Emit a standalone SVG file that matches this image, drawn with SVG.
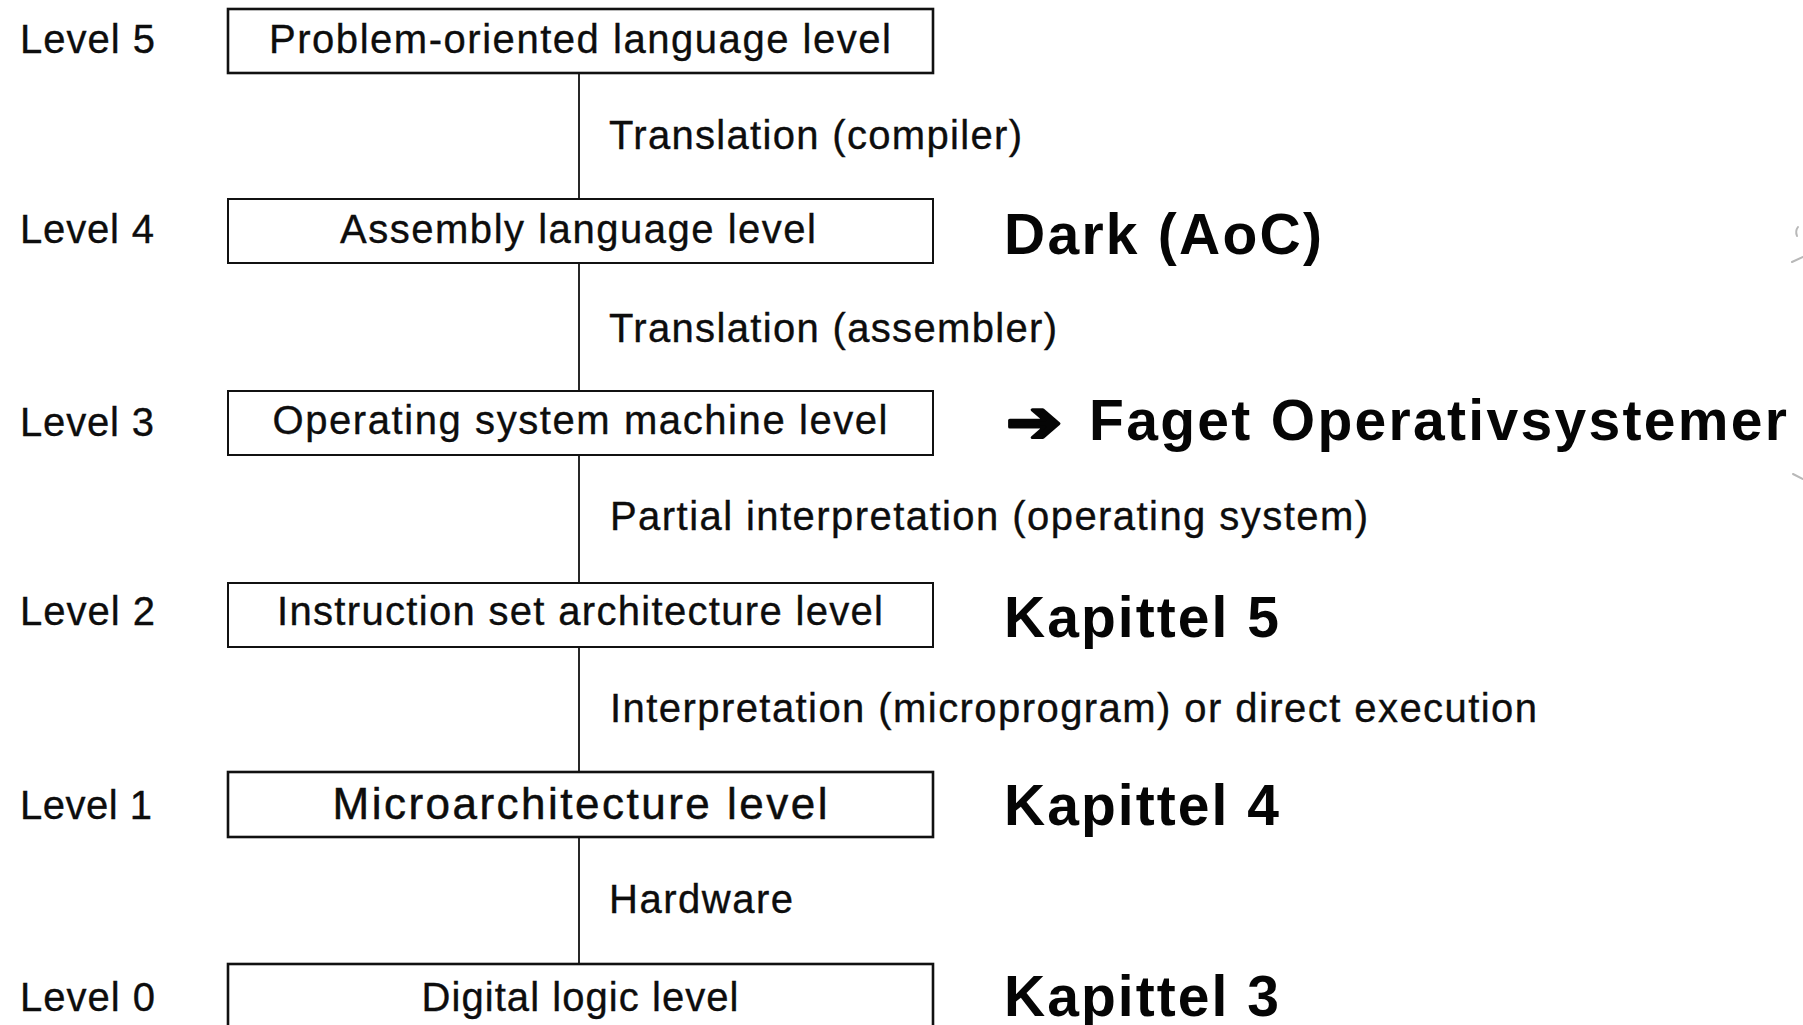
<svg xmlns="http://www.w3.org/2000/svg" width="1803" height="1025" viewBox="0 0 1803 1025">
  <style>
    .box { fill: #ffffff; stroke: #111111; stroke-width: 2; }
    .box.heavy { stroke-width: 2.6; }
    .lvl { font-family: "Liberation Sans", Arial, Helvetica, sans-serif; font-size: 40px; fill: #0d0d0d; stroke: #0d0d0d; stroke-width: 0.35; }
    .name { font-family: "Liberation Sans", Arial, Helvetica, sans-serif; font-size: 40px; fill: #0d0d0d; stroke: #0d0d0d; stroke-width: 0.35; text-anchor: middle; }
    .name.big { font-size: 44px; stroke-width: 0.5; }
    .edge { font-family: "Liberation Sans", Arial, Helvetica, sans-serif; font-size: 40px; fill: #0d0d0d; stroke: #0d0d0d; stroke-width: 0.35; }
    .note { font-family: "Liberation Sans", Arial, Helvetica, sans-serif; font-size: 57px; font-weight: bold; fill: #050505; }
    .arrow { font-family: "DejaVu Sans", sans-serif; font-size: 58px; font-weight: bold; fill: #050505; stroke: #050505; stroke-width: 3; stroke-linejoin: round; }
    .link { stroke: #111111; stroke-width: 1.8; fill: none; }
    .edge-mark { stroke: #b8b8b8; stroke-width: 2; fill: none; stroke-linecap: round; }
  </style>

  <rect x="0" y="0" width="1803" height="1025" fill="#ffffff"/>

  <!-- vertical connectors between the levels -->
  <g id="connectors">
    <line class="link" x1="579" y1="73" x2="579" y2="199"/>
    <line class="link" x1="579" y1="263" x2="579" y2="391"/>
    <line class="link" x1="579" y1="455" x2="579" y2="583"/>
    <line class="link" x1="579" y1="647" x2="579" y2="772"/>
    <line class="link" x1="579" y1="837" x2="579" y2="964"/>
    <text class="edge" x="609" y="149" textLength="413" lengthAdjust="spacing">Translation (compiler)</text>
    <text class="edge" x="609" y="342" textLength="448" lengthAdjust="spacing">Translation (assembler)</text>
    <text class="edge" x="610" y="530" textLength="758" lengthAdjust="spacing">Partial interpretation (operating system)</text>
    <text class="edge" x="610" y="722" textLength="927" lengthAdjust="spacing">Interpretation (microprogram) or direct execution</text>
    <text class="edge" x="609" y="913" textLength="184" lengthAdjust="spacing">Hardware</text>
  </g>

  <!-- level 5 -->
  <g id="level5">
    <text class="lvl" x="20" y="53" textLength="135" lengthAdjust="spacing">Level 5</text>
    <rect class="box heavy" x="228" y="9" width="705" height="64"/>
    <text class="name" x="580" y="53" textLength="622" lengthAdjust="spacing">Problem-oriented language level</text>
  </g>

  <!-- level 4 -->
  <g id="level4">
    <text class="lvl" x="20" y="243" textLength="134" lengthAdjust="spacing">Level 4</text>
    <rect class="box" x="228" y="199" width="705" height="64"/>
    <text class="name" x="578" y="243" textLength="476" lengthAdjust="spacing">Assembly language level</text>
    <text class="note" x="1004" y="254" textLength="318" lengthAdjust="spacing">Dark (AoC)</text>
  </g>

  <!-- level 3 -->
  <g id="level3">
    <text class="lvl" x="20" y="436" textLength="134" lengthAdjust="spacing">Level 3</text>
    <rect class="box" x="228" y="391" width="705" height="64"/>
    <text class="name" x="580" y="434" textLength="615" lengthAdjust="spacing">Operating system machine level</text>
    <text class="arrow" x="1006" y="442" textLength="56" lengthAdjust="spacingAndGlyphs">➔</text>
    <text class="note" x="1089" y="440" textLength="698" lengthAdjust="spacing">Faget Operativsystemer</text>
  </g>

  <!-- level 2 -->
  <g id="level2">
    <text class="lvl" x="20" y="625" textLength="135" lengthAdjust="spacing">Level 2</text>
    <rect class="box" x="228" y="583" width="705" height="64"/>
    <text class="name" x="580" y="625" textLength="606" lengthAdjust="spacing">Instruction set architecture level</text>
    <text class="note" x="1004" y="637" textLength="275" lengthAdjust="spacing">Kapittel 5</text>
  </g>

  <!-- level 1 -->
  <g id="level1">
    <text class="lvl" x="20" y="819" textLength="132" lengthAdjust="spacing">Level 1</text>
    <rect class="box heavy" x="228" y="772" width="705" height="65"/>
    <text class="name big" x="580" y="819" textLength="495" lengthAdjust="spacing">Microarchitecture level</text>
    <text class="note" x="1004" y="825" textLength="275" lengthAdjust="spacing">Kapittel 4</text>
  </g>

  <!-- level 0 -->
  <g id="level0">
    <text class="lvl" x="20" y="1011" textLength="135" lengthAdjust="spacing">Level 0</text>
    <rect class="box heavy" x="228" y="964" width="705" height="80"/>
    <text class="name" x="580" y="1011" textLength="317" lengthAdjust="spacing">Digital logic level</text>
    <text class="note" x="1004" y="1016" textLength="275" lengthAdjust="spacing">Kapittel 3</text>
  </g>

  <!-- small strokes at the right edge -->
  <g id="edge-marks">
    <path class="edge-mark" d="M1798 227 Q1795 231 1797 236"/>
    <path class="edge-mark" d="M1792 262 L1803 257"/>
    <path class="edge-mark" d="M1793 474 L1803 479"/>
  </g>
</svg>
